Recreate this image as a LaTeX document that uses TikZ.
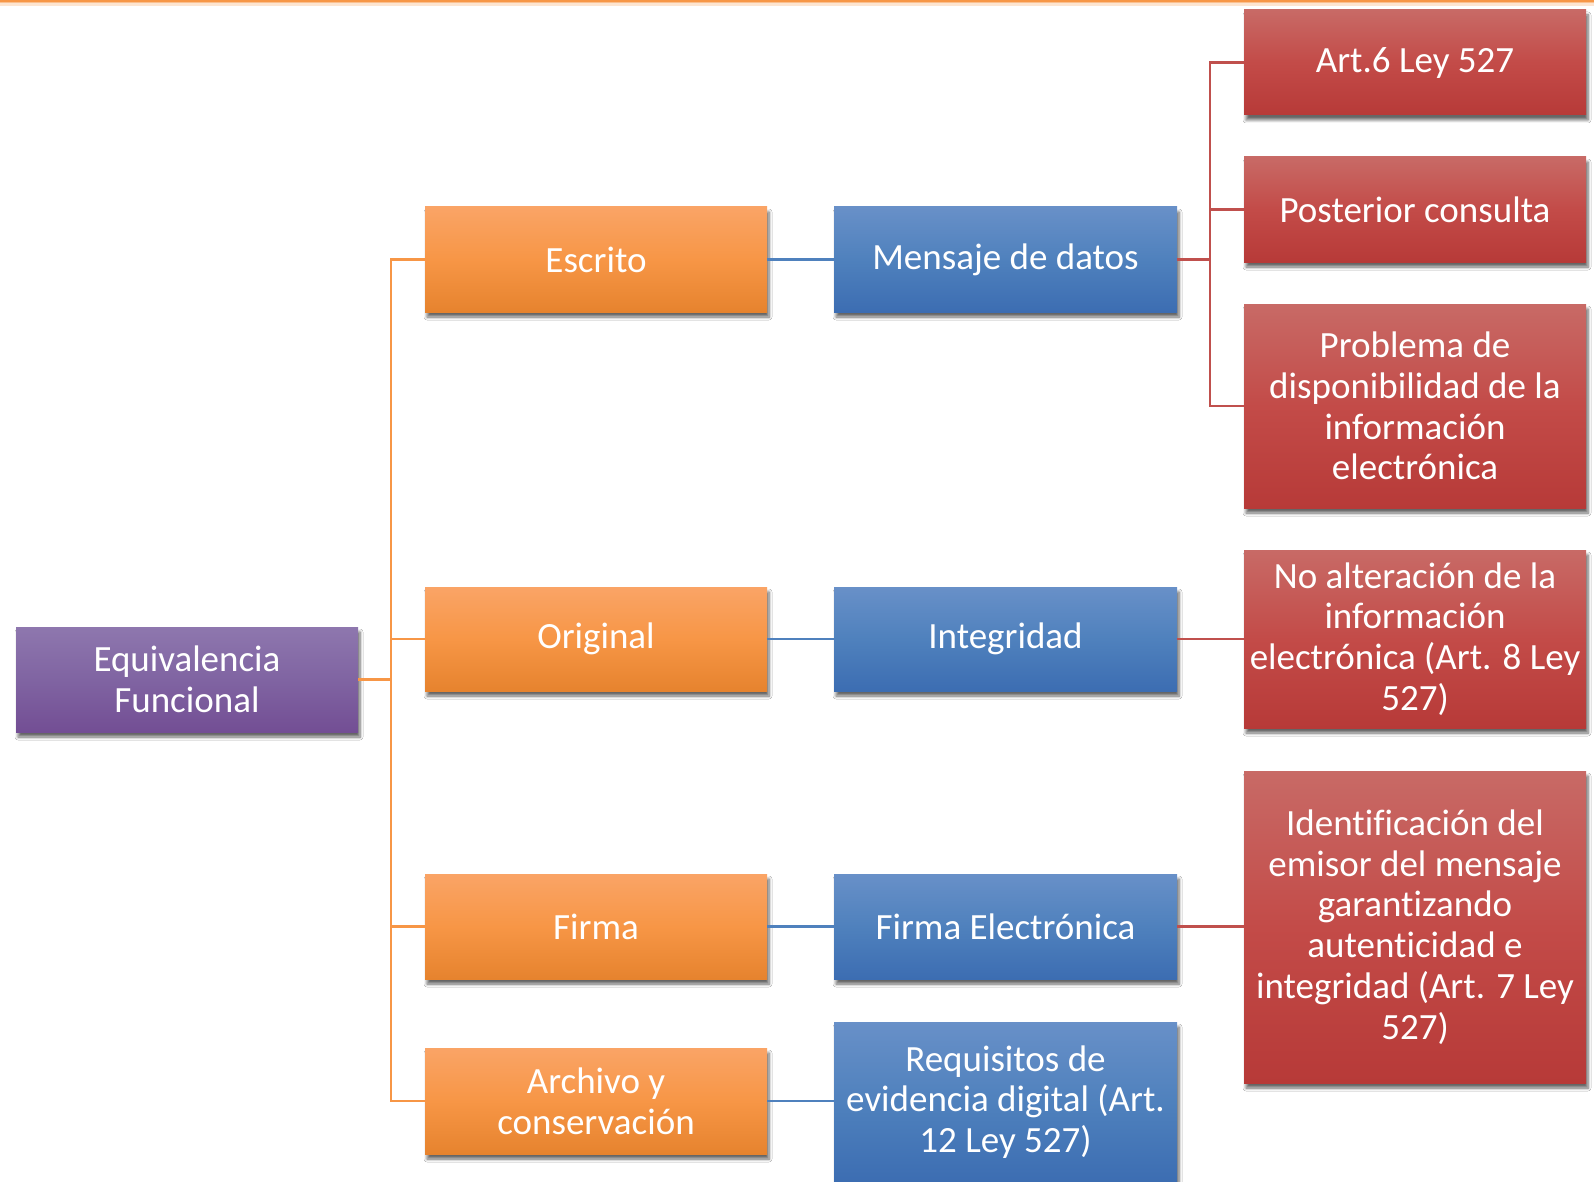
\documentclass[tikz,border=0pt]{standalone}
\usepackage{fontspec}
\setmainfont{Carlito}[Ligatures=NoCommon]
\usetikzlibrary{shadows.blur}
\definecolor{oTop}{HTML}{FAA466}
\definecolor{oMid}{HTML}{F79646}
\definecolor{oBot}{HTML}{E6832E}
\definecolor{bTop}{HTML}{6890C8}
\definecolor{bMid}{HTML}{4F81BD}
\definecolor{bBot}{HTML}{3C6DB2}
\definecolor{rTop}{HTML}{C86A66}
\definecolor{rMid}{HTML}{C34B48}
\definecolor{rBot}{HTML}{B73A38}
\definecolor{pTop}{HTML}{8E77AE}
\definecolor{pMid}{HTML}{8064A2}
\definecolor{pBot}{HTML}{734E94}
\definecolor{oLine}{HTML}{F79646}
\definecolor{bLine}{HTML}{4F81BD}
\definecolor{rLine}{HTML}{C0504D}
\tikzset{
  box/.style={rectangle, inner sep=2pt, minimum width=342pt, align=center,
    text=white, font=\fontsize{37}{40.7}\selectfont,
    blur shadow={shadow xshift=2pt, shadow yshift=-5pt, shadow blur steps=6,
      shadow blur radius=3pt, shadow opacity=60}},
  obox/.style={box, top color=oTop, bottom color=oBot, middle color=oMid},
  bbox/.style={box, top color=bTop, bottom color=bBot, middle color=bMid},
  rbox/.style={box, top color=rTop, bottom color=rBot, middle color=rMid},
  pbox/.style={box, top color=pTop, bottom color=pBot, middle color=pMid},
  oln/.style={draw=oLine, line width=2.2pt},
  bln/.style={draw=bLine, line width=2.2pt},
  rln/.style={draw=rLine, line width=2.2pt},
}
\begin{document}
\begin{tikzpicture}[x=1pt,y=-1pt]
\useasboundingbox (0,0) rectangle (1594,1182);
\fill[white] (0,0) rectangle (1594,1182);
\fill[oLine!25] (0,0) rectangle (1594,6);
\fill[oLine!60] (0,0) rectangle (1594,3.5);
\fill[oLine] (0,0) rectangle (1594,2);
\coordinate (ojoin) at (391,679.5);
\coordinate (rjoin) at (1210,259.5);
% nodes
\node[pbox, minimum height=105pt] (eq) at (187,679.5) {Equivalencia\\Funcional};
\node[obox, minimum height=105pt] (escrito) at (596,259.5) {Escrito};
\node[obox, minimum height=104pt] (original) at (596,639) {Original};
\node[obox, minimum height=105pt] (firma) at (596,926.5) {Firma};
\node[obox, minimum height=106pt] (archivo) at (596,1101) {Archivo y\\conservación};
\node[bbox, minimum height=105pt, minimum width=343pt] (mensaje) at (1005.5,259.5) {Mensaje de datos};
\node[bbox, minimum height=104pt, minimum width=343pt] (integ) at (1005.5,639) {Integridad};
\node[bbox, minimum height=105pt, minimum width=343pt] (firmae) at (1005.5,926.5) {Firma Electrónica};
\node[bbox, minimum height=160pt, minimum width=343pt] (req) at (1005.5,1102) {Requisitos de\\evidencia digital (Art.\\12 Ley 527)};
\node[rbox, minimum height=105pt] (art6) at (1415,62.5) {Art.6 Ley 527};
\node[rbox, minimum height=105pt] (post) at (1415,209.5) {Posterior consulta};
\node[rbox, minimum height=204pt] (prob) at (1415,406) {Problema de\\disponibilidad de la\\información\\electrónica};
\node[rbox, minimum height=178pt] (noalt) at (1415,639) {No alteración de la\\información\\electrónica (Art. 8 Ley\\527)};
\node[rbox, minimum height=312pt] (ident) at (1415,927) {Identificación del\\emisor del mensaje\\garantizando\\autenticidad e\\integridad (Art. 7 Ley\\527)};
% connectors
\draw[oln] (eq.east) -- (ojoin);
\draw[oln] (ojoin) |- (escrito.west);
\draw[oln] (ojoin) |- (original.west);
\draw[oln] (ojoin) |- (firma.west);
\draw[oln] (ojoin) |- (archivo.west);
\draw[bln] (escrito.east) -- (mensaje.west);
\draw[bln] (original.east) -- (integ.west);
\draw[bln] (firma.east) -- (firmae.west);
\draw[bln] (archivo.east) -- (archivo.east -| req.west);
\draw[rln] (mensaje.east) -- (rjoin);
\draw[rln] (rjoin) |- (art6.west);
\draw[rln] (rjoin) |- (post.west);
\draw[rln] (rjoin) |- (prob.west);
\draw[rln] (integ.east) -- (noalt.west);
\draw[rln] (firmae.east) -- (firmae.east -| ident.west);
\end{tikzpicture}
\end{document}
